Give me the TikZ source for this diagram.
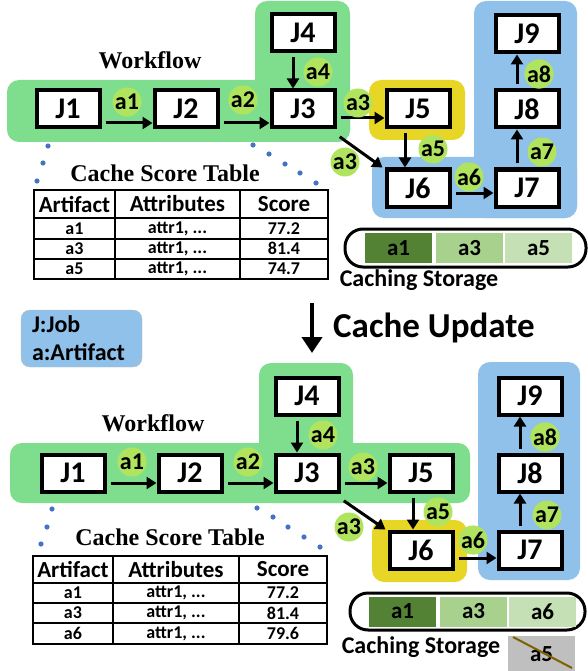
\documentclass[tikz,border=0pt]{standalone}
\usepackage{fontspec}
\setmainfont{Carlito}
\newfontfamily\tnr{Liberation Serif}
\usetikzlibrary{arrows.meta}
\definecolor{wfgreen}{HTML}{7FDE8D}
\definecolor{lblgreen}{HTML}{B0E45E}
\definecolor{regblue}{HTML}{8FC1EA}
\definecolor{regyel}{HTML}{E8D626}
\definecolor{dotblue}{HTML}{4472C4}
\definecolor{stA}{HTML}{548235}
\definecolor{stB}{HTML}{A9D18E}
\definecolor{stC}{HTML}{C5E0B4}
\definecolor{evict}{HTML}{BFBFBF}
\definecolor{brn}{HTML}{7F6000}
\tikzset{
 job/.style={draw, line width=4pt, fill=white, minimum width=63pt, minimum height=37pt, inner sep=0pt, font=\fontsize{30}{30}\selectfont\bfseries},
 lbl/.style={circle, fill=lblgreen, minimum size=29pt, inner sep=0pt, font=\fontsize{24}{24}\selectfont\bfseries},
 arr/.style={line width=3pt, -{Triangle[length=10pt,width=12pt]}, shorten <=4pt},
 title/.style={font=\tnr\fontsize{24}{24}\selectfont\bfseries},
 thead/.style={font=\fontsize{23}{23}\selectfont\bfseries, inner sep=0pt},
 tcell/.style={font=\fontsize{18}{18}\selectfont\bfseries, inner sep=0pt},
 stcell/.style={minimum width=67pt, minimum height=30pt, inner sep=0pt, font=\fontsize{23}{23}\selectfont\bfseries},
 sttext/.style={font=\fontsize{24}{24}\selectfont\bfseries},
 dot/.style={dotblue},
 tline/.style={line width=2pt},
}
\begin{document}
\begin{tikzpicture}[x=1pt,y=-1pt]
\useasboundingbox (0,0) rectangle (587,671);

% ================= TOP PANEL =================
\fill[wfgreen, rounded corners=12pt] (7,80) rectangle (350,142);
\fill[wfgreen, rounded corners=12pt] (255,1) rectangle (350,142);
\fill[regyel, rounded corners=12pt] (369,80) rectangle (465,140);
\fill[regblue, rounded corners=12pt] (372,157) rectangle (577,218);
\fill[regblue, rounded corners=12pt] (474,1) rectangle (577,218);

\node[title] (wf1) at (150,60) {Workflow};

\node[job] (J1) at (68,109) {J1};
\node[job] (J2) at (186,109) {J2};
\node[job] (J3) at (303,109) {J3};
\node[job] (J4) at (303,33) {J4};
\node[job] (J5) at (418,109) {J5};
\node[job] (J6) at (418,188) {J6};
\node[job] (J7) at (527,188) {J7};
\node[job] (J8) at (527,109) {J8};
\node[job] (J9) at (527,34) {J9};

\draw[arr] ([yshift=-14pt]J1.east) -- ([yshift=-14pt]J2.west);
\draw[arr] ([yshift=-14pt]J2.east) -- ([yshift=-14pt]J3.west);
\draw[arr] ([xshift=-10pt]J4.south) -- ([xshift=-10pt]J3.north);
\draw[arr] ([yshift=-9pt]J3.east) -- ([yshift=-9pt]J5.west);
\draw[arr] ([yshift=-5pt]J3.south east) -- ([xshift=-2pt]J6.north west);
\draw[arr] ([xshift=-13pt]J5.south) -- ([xshift=-13pt]J6.north);
\draw[arr] ([yshift=-5pt]J6.east) -- ([yshift=-5pt]J7.west);
\draw[arr] ([xshift=-10pt]J7.north) -- ([xshift=-10pt]J8.south);
\draw[arr] ([xshift=-10pt]J8.north) -- ([xshift=-10pt]J9.south);

\node[lbl] (ta1) at (127,102) {a1};
\node[lbl] (ta2) at (243,100) {a2};
\node[lbl] (ta4) at (318,72) {a4};
\node[lbl] (ta3) at (358,103) {a3};
\node[lbl] (ta3b) at (345,162) {a3};
\node[lbl] (ta5) at (433,149) {a5};
\node[lbl] (ta6) at (469,177) {a6};
\node[lbl] (ta7) at (542,152) {a7};
\node[lbl] (ta8) at (539,74) {a8};

\foreach \p in {(48,146),(43,163),(37,181),(253,145),(269,154),(285,164),(300,173),(316,183)}
  \fill[dot] \p circle (2.6pt);

\node[title] (cst1) at (165,173) {Cache Score Table};

\draw[tline] (34,190) rectangle (328,279);
\draw[tline] (115,190) -- (115,279);
\draw[tline] (240,190) -- (240,279);
\draw[tline] (34,218) -- (328,218);
\draw[tline] (34,238.5) -- (328,238.5);
\draw[tline] (34,258.5) -- (328,258.5);
\node[thead] (th1) at (74.5,204) {Artifact};
\node[thead] (th2) at (177.5,204) {Attributes};
\node[thead] (th3) at (284,204) {Score};
\node[tcell] (tr11) at (74.5,228.5) {a1};
\node[tcell] (tr12) at (177.5,228.5) {attr1, ...};
\node[tcell] (tr13) at (284,228.5) {77.2};
\node[tcell] (tr21) at (74.5,248.5) {a3};
\node[tcell] (tr22) at (177.5,248.5) {attr1, ...};
\node[tcell] (tr23) at (284,248.5) {81.4};
\node[tcell] (tr31) at (74.5,269) {a5};
\node[tcell] (tr32) at (177.5,269) {attr1, ...};
\node[tcell] (tr33) at (284,269) {74.7};

\draw[line width=3pt, rounded corners=18pt] (345,229) rectangle (586,267);
\node[stcell, fill=stA] (ts1) at (398.5,248) {a1};
\node[stcell, fill=stB] (ts2) at (469.5,248) {a3};
\node[stcell, fill=stC] (ts3) at (538.5,248) {a5};
\node[sttext] (tcs) at (419,280) {Caching Storage};

% ================= MIDDLE =================
\node[draw=black!25, fill=regblue, rounded corners=9pt, minimum width=121pt, minimum height=57pt, inner xsep=11pt, text width=99pt, align=left, font=\fontsize{24}{28}\selectfont\bfseries] (legend) at (81.5,338.5) {J:Job\\a:Artifact};

\coordinate (cu1) at (312,303);
\coordinate (cu2) at (312,353);
\draw[line width=4pt, -{Triangle[length=16pt,width=20pt]}] (cu1) -- (cu2);
\node[anchor=west, font=\fontsize{35}{35}\selectfont\bfseries, inner sep=0pt] (cu) at (333,328) {Cache Update};

% ================= BOTTOM PANEL =================
\fill[wfgreen, rounded corners=12pt] (10,443) rectangle (470,503);
\fill[wfgreen, rounded corners=12pt] (259,363) rectangle (353,503);
\fill[regyel, rounded corners=12pt] (372,520) rectangle (467,582);
\fill[regblue, rounded corners=12pt] (478,362) rectangle (580,580);

\node[title] (wf2) at (153,423) {Workflow};

\node[job] (K1) at (73,473) {J1};
\node[job] (K2) at (190,473) {J2};
\node[job] (K3) at (307,473) {J3};
\node[job] (K4) at (307,396) {J4};
\node[job] (K5) at (421,473) {J5};
\node[job] (K6) at (421,550) {J6};
\node[job] (K7) at (530,550) {J7};
\node[job] (K8) at (530,473) {J8};
\node[job] (K9) at (530,396) {J9};

\draw[arr] ([yshift=-10pt]K1.east) -- ([yshift=-10pt]K2.west);
\draw[arr] ([yshift=-10pt]K2.east) -- ([yshift=-10pt]K3.west);
\draw[arr] ([xshift=-10pt]K4.south) -- ([xshift=-10pt]K3.north);
\draw[arr] ([yshift=-10pt]K3.east) -- ([yshift=-10pt]K5.west);
\draw[arr] ([yshift=-5pt]K3.south east) -- ([xshift=-2pt]K6.north west);
\draw[arr] ([xshift=-8pt]K5.south) -- ([xshift=-8pt]K6.north);
\draw[arr] ([yshift=-8pt]K6.east) -- ([yshift=-8pt]K7.west);
\draw[arr] ([xshift=-10pt]K7.north) -- ([xshift=-10pt]K8.south);
\draw[arr] ([xshift=-10pt]K8.north) -- ([xshift=-10pt]K9.south);

\node[lbl] (ba1) at (132,462) {a1};
\node[lbl] (ba2) at (248,462) {a2};
\node[lbl] (ba4) at (323,435) {a4};
\node[lbl] (ba3) at (363,467) {a3};
\node[lbl] (ba3b) at (349,527) {a3};
\node[lbl] (ba5) at (438,512) {a5};
\node[lbl] (ba6) at (473,540) {a6};
\node[lbl] (ba7) at (547,515) {a7};
\node[lbl] (ba8) at (545,437) {a8};

\foreach \p in {(52,509),(47,527),(41,544),(257,508),(273,517),(288,527),(304,537),(320,547)}
  \fill[dot] \p circle (2.6pt);

\node[title] (cst2) at (170,537) {Cache Score Table};

\draw[tline] (33,556) rectangle (327,644);
\draw[tline] (113,556) -- (113,644);
\draw[tline] (239,556) -- (239,644);
\draw[tline] (33,583) -- (327,583);
\draw[tline] (33,603) -- (327,603);
\draw[tline] (33,623) -- (327,623);
\node[thead] (bh1) at (73,569.5) {Artifact};
\node[thead] (bh2) at (176,569.5) {Attributes};
\node[thead] (bh3) at (283,569.5) {Score};
\node[tcell] (br11) at (73,593) {a1};
\node[tcell] (br12) at (176,593) {attr1, ...};
\node[tcell] (br13) at (283,593) {77.2};
\node[tcell] (br21) at (73,613) {a3};
\node[tcell] (br22) at (176,613) {attr1, ...};
\node[tcell] (br23) at (283,613) {81.4};
\node[tcell] (br31) at (73,633.5) {a6};
\node[tcell] (br32) at (176,633.5) {attr1, ...};
\node[tcell] (br33) at (283,633.5) {79.6};

\draw[line width=3pt, rounded corners=18pt] (350,593) rectangle (585,630);
\node[stcell, fill=stA] (bs1) at (402.5,611.5) {a1};
\node[stcell, fill=stB] (bs2) at (473.5,611.5) {a3};
\node[stcell, fill=stC] (bs3) at (542.5,611.5) {a6};
\node[sttext] (bcs) at (421,647) {Caching Storage};

\node[stcell, fill=evict, minimum height=40pt, anchor=north] (ev) at (541.5,636) {};
\node[font=\fontsize{23}{23}\selectfont\bfseries, inner sep=0pt] (evt) at (541.5,654) {a5};
\draw[brn, line width=2pt] (513,637) -- (572,668);
\end{tikzpicture}
\end{document}
